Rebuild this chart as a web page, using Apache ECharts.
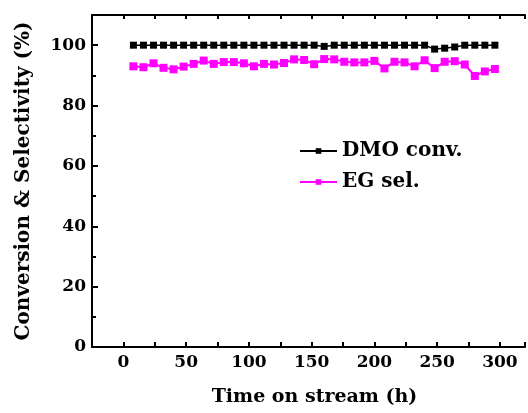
<!DOCTYPE html>
<html><head><meta charset="utf-8">
<script src="https://cdn.jsdelivr.net/npm/echarts@6/dist/echarts.min.js"></script>
<style>html,body{margin:0;padding:0;background:#fff}#c{width:528px;height:413px}</style>
</head><body><div id="c"></div>
<script>
const hours = [8,16,24,32,40,48,56,64,72,80,88,96,104,112,120,128,136,144,152,160,168,176,184,192,200,208,216,224,232,240,248,256,264,272,280,288,296];
const dmoConv = [100,100,100,100,100,100,100,100,100,100,100,100,100,100,100,100,100,100,100,99.6,100,100,100,100,100,100,100,100,100,100,98.7,99.0,99.4,100,100,100,100];
const egSel = [93.0,92.7,94.0,92.5,92.0,92.9,93.8,94.9,93.8,94.4,94.4,94.0,93.0,93.8,93.6,94.1,95.3,95.1,93.7,95.4,95.3,94.5,94.3,94.3,94.8,92.3,94.5,94.3,93.0,95.0,92.4,94.5,94.7,93.6,89.8,91.3,92.1];
const seriesNames = ['DMO conv.', 'EG sel.'];
const xTickLabels = [0,50,100,150,200,250,300];
const yTickLabels = [0,20,40,60,80,100];
const xTitle = 'Time on stream (h)';
const yTitle = 'Conversion & Selectivity (%)';

const FONT = "'DejaVu Serif','Liberation Serif',serif";
const chart = echarts.init(document.getElementById('c'), null, {renderer: 'canvas'});
const pair = (xs, ys) => xs.map((x, i) => [x, ys[i]]);
const axisLine = {show: true, onZero: false, lineStyle: {color: '#000', width: 2}};
chart.setOption({
  animation: false,
  backgroundColor: '#fff',
  grid: {left: 92, top: 15, bottom: 66, width: 439, containLabel: false},
  legend: {
    orient: 'vertical', left: 294, top: 136, itemGap: 11, itemWidth: 37, itemHeight: 7,
    textStyle: {fontFamily: FONT, fontWeight: 'bold', fontSize: 20, color: '#000'},
    data: seriesNames
  },
  xAxis: [{
    type: 'value', position: 'bottom', min: -25, max: 320, interval: 25,
    axisLine: axisLine,
    axisTick: {show: true, inside: true, length: 5, lineStyle: {color: '#000', width: 2}},
    splitLine: {show: false},
    axisLabel: {
      margin: 7, color: '#000', fontFamily: FONT, fontWeight: 'bold', fontSize: 17,
      formatter: v => xTickLabels.includes(v) ? String(v) : ''
    },
    name: xTitle, nameLocation: 'middle', nameGap: 41,
    nameTextStyle: {fontFamily: FONT, fontWeight: 'bold', fontSize: 19, color: '#000', padding: [0, 0, 0, 12]}
  }, {
    type: 'value', position: 'top', min: -25, max: 320, interval: 25,
    axisLine: axisLine,
    axisTick: {show: true, inside: true, length: 4, lineStyle: {color: '#000', width: 2}},
    splitLine: {show: false}, axisLabel: {show: false}
  }],
  yAxis: [{
    type: 'value', position: 'left', min: 0, max: 110, interval: 20,
    axisLine: axisLine,
    axisTick: {show: true, inside: true, length: 6, lineStyle: {color: '#000', width: 2}},
    minorTick: {show: true, splitNumber: 2, length: 4, lineStyle: {color: '#000', width: 2}},
    splitLine: {show: false},
    axisLabel: {
      margin: 6, color: '#000', fontFamily: FONT, fontWeight: 'bold', fontSize: 17,
      formatter: v => yTickLabels.includes(v) ? String(v) : ''
    },
    name: yTitle, nameLocation: 'middle', nameGap: 58,
    nameTextStyle: {fontFamily: FONT, fontWeight: 'bold', fontSize: 20, color: '#000'}
  }],
  series: [{
    name: seriesNames[0], type: 'line', data: pair(hours, dmoConv),
    symbol: 'rect', symbolSize: 7, showAllSymbol: true,
    lineStyle: {color: '#000', width: 1.5}, itemStyle: {color: '#000'}
  }, {
    name: seriesNames[1], type: 'line', data: pair(hours, egSel),
    symbol: 'rect', symbolSize: 8, showAllSymbol: true,
    lineStyle: {color: '#ff00ff', width: 2}, itemStyle: {color: '#ff00ff'}
  }]
});
</script></body></html>
